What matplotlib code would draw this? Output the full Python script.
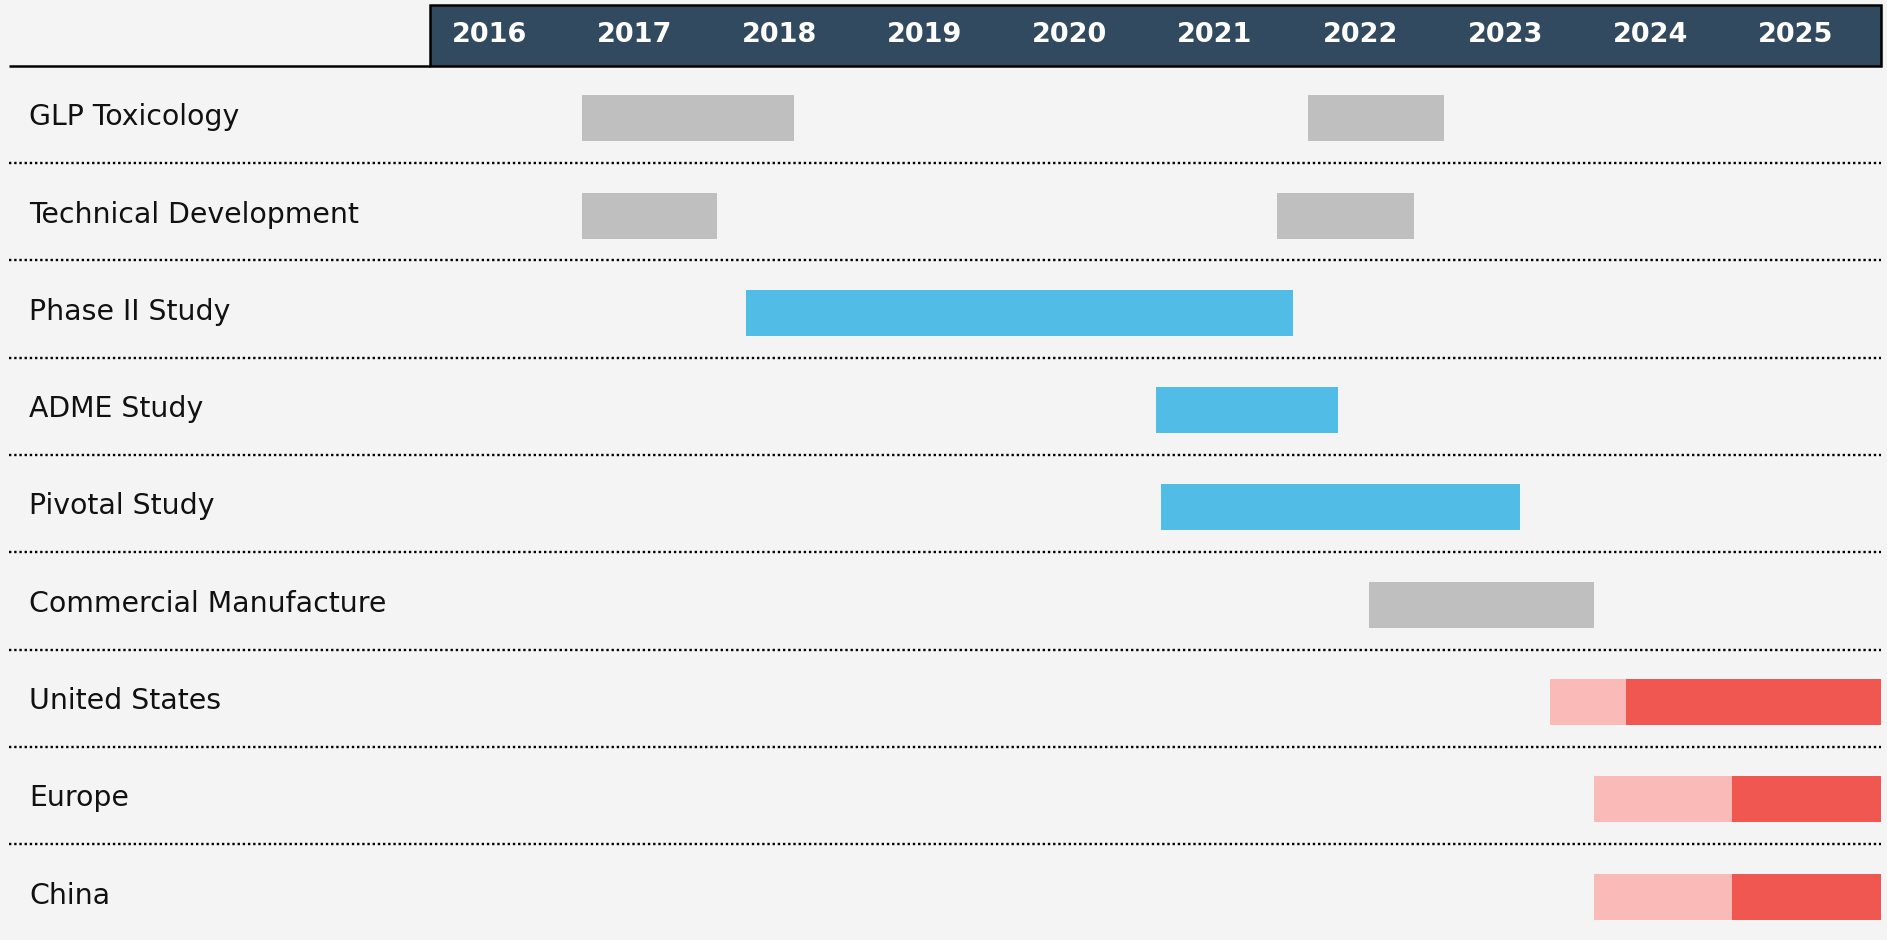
"""Development timeline (Gantt style) recreated with matplotlib."""

import matplotlib.pyplot as plt
from matplotlib.patches import Rectangle

OUT_PNG = "out.png"

# --- data ---------------------------------------------------------------
tasks = [
    "GLP Toxicology",
    "Technical Development",
    "Phase II Study",
    "ADME Study",
    "Pivotal Study",
    "Commercial Manufacture",
    "United States",
    "Europe",
    "China",
]
years = list(range(2016, 2026))

# one entry per bar segment (row index, start, end, kind), decimal years
seg_row = [0, 0, 1, 1, 2, 3, 4, 5, 6, 6, 7, 7, 8, 8]
seg_start = [2017.05, 2022.05, 2017.05, 2021.84, 2018.18, 2021.0, 2021.04, 2022.47,
             2023.72, 2024.24, 2024.02, 2024.97, 2024.02, 2024.97]
seg_end = [2018.51, 2022.99, 2017.98, 2022.78, 2021.95, 2022.26, 2023.51, 2024.02,
           2024.24, 2026.0, 2024.97, 2026.0, 2024.97, 2026.0]
seg_kind = ["prep", "prep", "prep", "prep", "clin", "clin", "clin", "prep",
            "filing", "launch", "filing", "launch", "filing", "launch"]

COLORS = {
    "prep": "#bfbfbf",
    "clin": "#51bde6",
    "filing": "#f9bab8",
    "launch": "#ef5750",
}
BG = "#f4f4f4"
HEADER = "#324a5f"

# --- layout in pixels of the 1887x940 canvas ------------------------------
W, H = 1887, 940
PX_PER_YEAR = 145.1
X0_PX = 430          # where 2016 starts
ROW_PX = 97.3
HEAD_BOTTOM_PX = 65.7
HEAD_TOP_PX = 5


def main() -> None:
    fig = plt.figure(figsize=(W / 100, H / 100), dpi=100, facecolor=BG)
    ax = fig.add_axes([0, 0, 1, 1])
    ax.set_facecolor(BG)
    ax.axis("off")

    x_left = years[0] - X0_PX / PX_PER_YEAR
    x_right = x_left + W / PX_PER_YEAR
    y_top = -HEAD_BOTTOM_PX / ROW_PX
    y_bot = y_top + H / ROW_PX
    ax.set_xlim(x_left, x_right)
    ax.set_ylim(y_bot, y_top)

    # header band
    head_top = (HEAD_TOP_PX - HEAD_BOTTOM_PX) / ROW_PX
    ax.add_patch(Rectangle((years[0], head_top), years[-1] + 1 - years[0], -head_top,
                           facecolor=HEADER, edgecolor="black", linewidth=1.8, zorder=3))
    for y in years:
        ax.text(y + 0.41, head_top / 2, str(y), color="white", fontsize=19.5,
                fontweight="bold", ha="center", va="center", zorder=4)

    line_x0 = x_left + 9 / PX_PER_YEAR
    line_x1 = years[-1] + 1
    ax.plot([line_x0, years[0]], [0, 0], color="black", linewidth=1.8,
            solid_capstyle="butt", zorder=4)

    # row separators
    for i in range(1, len(tasks)):
        ax.plot([line_x0, line_x1], [i, i], color="black", linewidth=1.7,
                linestyle=(0, (1, 1.2)), dash_capstyle="butt", zorder=2)

    # labels
    for i, name in enumerate(tasks):
        ax.text(x_left + 29 / PX_PER_YEAR, i + 0.53, name, fontsize=20.4,
                ha="left", va="center", color="#111111")

    # bars
    bar_h = 46 / ROW_PX
    ax.barh([r + 0.54 for r in seg_row],
            [e - s for s, e in zip(seg_start, seg_end)],
            left=seg_start, height=bar_h,
            color=[COLORS[k] for k in seg_kind], linewidth=0, zorder=3)

    fig.savefig(OUT_PNG, dpi=100, facecolor=BG)
    plt.close(fig)


if __name__ == "__main__":
    main()
